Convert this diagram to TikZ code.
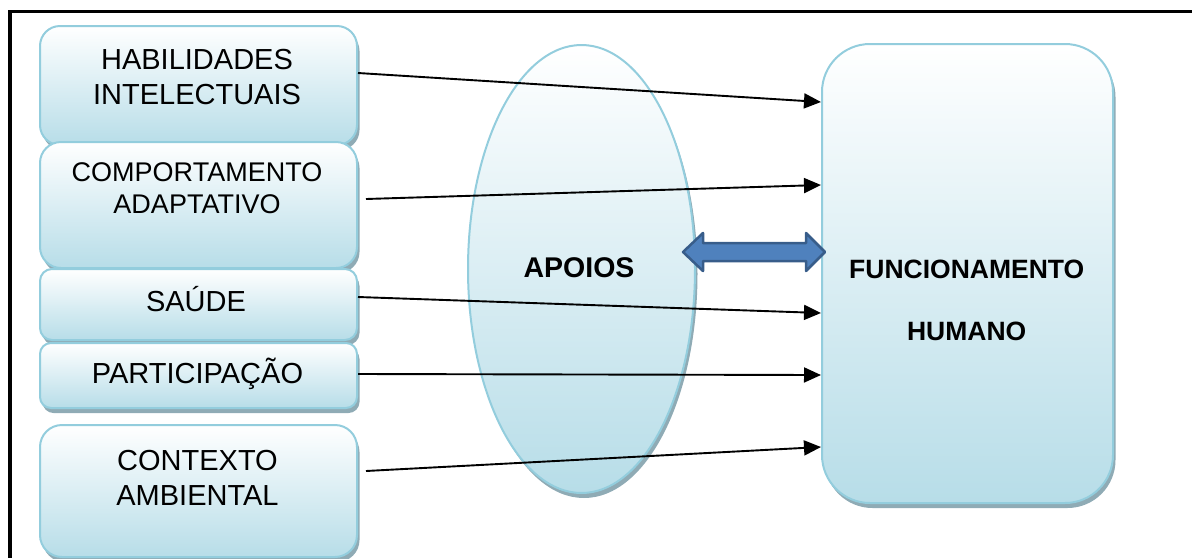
\documentclass[tikz,border=0pt]{standalone}
\usepackage{fontspec}
\setmainfont{Liberation Sans}
\usetikzlibrary{arrows.meta,shadows,shapes.geometric}
\definecolor{boxline}{RGB}{147,205,221}
\definecolor{boxlow}{RGB}{183,221,232}
\definecolor{shadec}{RGB}{143,171,181}
\definecolor{arrowfill}{RGB}{79,129,189}
\definecolor{arrowline}{RGB}{56,93,138}
\tikzset{
  card/.style={draw=boxline, line width=2pt, top color=white, bottom color=boxlow,
    drop shadow={shadow xshift=2.5pt, shadow yshift=-5pt, fill=shadec, opacity=1},
    inner sep=0pt},
  lbl/.style={font=\fontsize{29}{35}\selectfont, align=center, inner sep=0pt},
  onelbl/.style={lbl, text height=20.8pt, text depth=0pt},
  conn/.style={line width=1.9pt, -{Triangle[length=17pt,width=15pt]}},
  frame/.style={line width=3.3pt}
}
\begin{document}
\begin{tikzpicture}[x=1pt,y=-1pt]
\useasboundingbox (0,0) rectangle (1192,558);

% page frame (top and left rules)
\draw[frame] (1192,11.5) -- (10,11.5) -- (10,558);

% factor boxes on the left
\node[card, rounded corners=20pt, minimum width=317pt, minimum height=119pt] (hab) at (198.5,85.5) {};
\node[card, rounded corners=21pt, minimum width=317pt, minimum height=126pt] (com) at (198.5,205) {};
\node[card, rounded corners=12pt, minimum width=317pt, minimum height=71pt] (sau) at (198.5,304.5) {};
\node[card, rounded corners=11pt, minimum width=317pt, minimum height=65pt] (par) at (198.5,375.5) {};
\node[card, rounded corners=22pt, minimum width=317pt, minimum height=132pt] (ctx) at (198.5,491) {};

% supports ellipse
\node[card, ellipse, minimum width=227pt, minimum height=448pt] (apo) at (581.5,269) {};

% human functioning box
\node[card, rounded corners=48pt, minimum width=291pt, minimum height=459pt] (fun) at (967.5,273.5) {};

% labels
\node[lbl] (habt) at (197,77.5) {HABILIDADES\\INTELECTUAIS};
\node[lbl, font=\fontsize{27}{32}\selectfont] (comt) at (197,188.5) {COMPORTAMENTO\\ADAPTATIVO};
\node[onelbl] (saut) at (196,301.5) {SAÚDE};
\node[onelbl] (part) at (197.5,373.5) {PARTICIPAÇÃO};
\node[lbl] (ctxt) at (197.5,477.5) {CONTEXTO\\AMBIENTAL};
\node[lbl, font=\bfseries\fontsize{28.5}{34}\selectfont, text height=20.4pt, text depth=0pt] (apot) at (579,267) {APOIOS};
\node[lbl, font=\bfseries\fontsize{26.5}{62}\selectfont] (funt) at (966.7,300) {FUNCIONAMENTO\\HUMANO};

% influence arrows
\draw[conn] ([yshift=12.5pt]hab.east) -- ([yshift=171.5pt]fun.west);
\draw[conn] ([xshift=8pt,yshift=6pt]com.east) -- ([yshift=88.5pt]fun.west);
\draw[conn] ([yshift=7.5pt]sau.east) -- ([yshift=-39.5pt]fun.west);
\draw[conn] ([yshift=1.5pt]par.east) -- ([yshift=-101.5pt]fun.west);
\draw[conn] ([xshift=8pt,yshift=20pt]ctx.east) -- ([yshift=-173.5pt]fun.west);

% two-way block arrow between supports and functioning
\draw[fill=arrowfill, draw=arrowline, line width=2.5pt, line join=round]
  (683,252) -- (703,233) -- (703,243) -- (806,243) -- (806,233) -- (825,252)
  -- (806,271) -- (806,261) -- (703,261) -- (703,271) -- cycle;
\end{tikzpicture}
\end{document}
